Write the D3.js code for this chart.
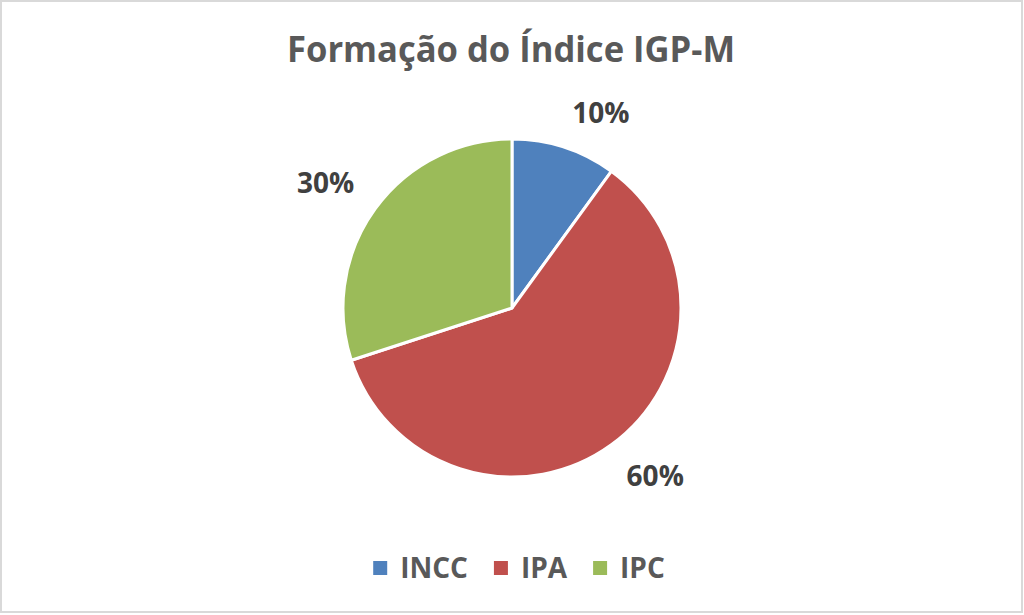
<!DOCTYPE html>
<html lang="pt">
	<head>
		<meta charset="utf-8">
		<title>Formação do Índice IGP-M</title>
		<style type="text/css">
			body {
				margin: 0;
				background-color: white;
				font-family: "Open Sans", sans-serif;
			}
			.title {
				font-size: 35px;
				font-weight: bold;
				fill: #595959;
			}
			.pctlabels {
				font-size: 28px;
				font-weight: bold;
				fill: #404040;
			}
			.legend text {
				font-size: 28px;
				font-weight: bold;
				fill: #595959;
			}
		</style>
	</head>
	<body>
	<script src="https://cdn.jsdelivr.net/npm/d3@7"></script>
	<script type="text/javascript">

		// data
		var categories = ["INCC", "IPA", "IPC"];
		var shares = [10, 60, 30];
		var colors = ["#4F81BD", "#C0504D", "#9BBB59"];

		var fullwidth = 1024;
		var fullheight = 615;

		var cx = 512, cy = 308, radius = 169;

		var svg = d3.select("body")
			.append("svg")
			.attr("width", fullwidth)
			.attr("height", fullheight);

		// chart frame
		svg.append("rect")
			.attr("x", 1)
			.attr("y", 1)
			.attr("width", fullwidth - 3)
			.attr("height", fullheight - 4)
			.attr("fill", "white")
			.attr("stroke", "#d9d9d9")
			.attr("stroke-width", 2);

		svg.append("text")
			.attr("class", "title")
			.attr("x", 511)
			.attr("y", 62)
			.attr("text-anchor", "middle")
			.attr("textLength", 448)
			.attr("lengthAdjust", "spacingAndGlyphs")
			.text("Formação do Índice IGP-M");

		var data = categories.map(function(c, i) {
			return { name: c, value: shares[i], color: colors[i] };
		});

		var pie = d3.pie()
			.sort(null)
			.value(function(d) { return d.value; });

		var arc = d3.arc()
			.innerRadius(0)
			.outerRadius(radius);

		var g = svg.append("g")
			.attr("transform", "translate(" + cx + "," + cy + ")");

		var arcs = pie(data);

		g.selectAll("path")
			.data(arcs)
			.enter()
			.append("path")
			.attr("d", arc)
			.attr("fill", function(d) { return d.data.color; })
			.attr("stroke", "white")
			.attr("stroke-width", 3)
			.attr("stroke-linejoin", "round");

		// labels placed outside end, box corner touching the ray
		var labelR = 195;
		var labels = g.selectAll("text.pctlabels")
			.data(arcs)
			.enter()
			.append("text")
			.attr("class", "pctlabels")
			.attr("text-anchor", "middle")
			.text(function(d) { return d.data.value + "%"; });

		labels.each(function(d) {
			var w = this.getComputedTextLength();
			var h = 20;
			var a = (d.startAngle + d.endAngle) / 2;
			var s = Math.sin(a), c = Math.cos(a);
			var x = s * labelR + (s >= 0 ? 1 : -1) * w / 2;
			var y = -c * labelR + (c >= 0 ? -1 : 1) * h / 2;
			d3.select(this)
				.attr("x", x)
				.attr("y", y + h / 2);
		});

		// legend
		var legend = svg.append("g").attr("class", "legend");
		var box = 14, boxGap = 13, itemGap = 26;

		var items = legend.selectAll("g")
			.data(data)
			.enter()
			.append("g");

		items.append("rect")
			.attr("width", box)
			.attr("height", box)
			.attr("y", -box + 0)
			.attr("fill", function(d) { return d.color; });

		items.append("text")
			.attr("x", box + boxGap)
			.attr("y", 3)
			.text(function(d) { return d.name; });

		var xpos = 0;
		var offsets = [];
		items.each(function() {
			offsets.push(xpos);
			var tw = d3.select(this).select("text").node().getComputedTextLength();
			xpos += box + boxGap + tw + itemGap;
		});
		var total = xpos - itemGap;
		var startX = 519 - total / 2;

		items.attr("transform", function(d, i) {
			return "translate(" + (startX + offsets[i]) + ",575)";
		});

	</script>
	</body>
</html>
